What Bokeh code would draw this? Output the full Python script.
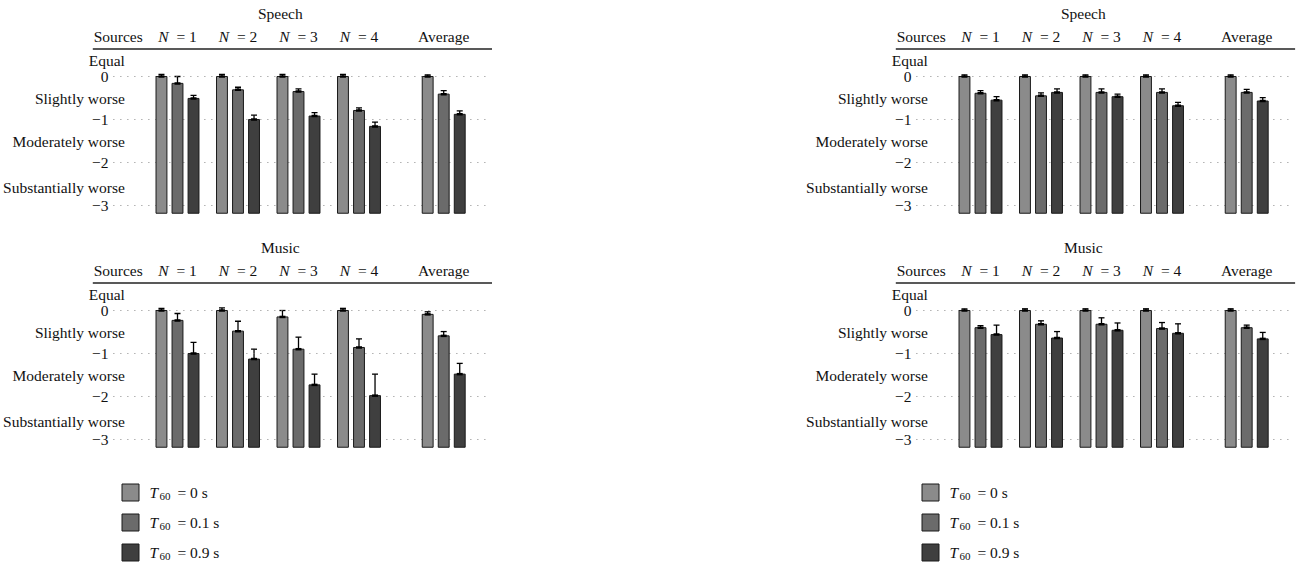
from bokeh.plotting import figure
from bokeh.layouts import column, row, Spacer
from bokeh.models import Range1d, ColumnDataSource, Whisker, TeeHead
from bokeh.core.properties import value
from bokeh.embed import file_html
from bokeh.resources import INLINE

FONT = "Liberation Serif"
FS = "15.5px"

# ---------------- data ----------------
groups = ["N = 1", "N = 2", "N = 3", "N = 4", "Average"]
header_first = "Sources"
cond_values = ["0", "0.1", "0.9"]          # T60 in seconds
tick_values = [0, -1, -2, -3]
tick_labels = ["0", "\u22121", "\u22122", "\u22123"]
rating_labels = ["Equal", "Slightly worse", "Moderately worse", "Substantially worse"]
rating_pos = [0.38, -0.52, -1.52, -2.58]

# left column
speech_L_t0 = [0.0, 0.0, 0.0, 0.0, 0.0]
speech_L_t0_err = [0.05, 0.05, 0.05, 0.05, 0.04]
speech_L_t01 = [-0.16, -0.31, -0.35, -0.79, -0.41]
speech_L_t01_err = [0.16, 0.06, 0.06, 0.06, 0.08]
speech_L_t09 = [-0.51, -1.00, -0.92, -1.16, -0.88]
speech_L_t09_err = [0.07, 0.10, 0.08, 0.10, 0.08]

music_L_t0 = [0.0, 0.0, -0.15, 0.0, -0.09]
music_L_t0_err = [0.05, 0.06, 0.15, 0.05, 0.06]
music_L_t01 = [-0.23, -0.48, -0.90, -0.86, -0.59]
music_L_t01_err = [0.16, 0.23, 0.28, 0.20, 0.10]
music_L_t09 = [-1.00, -1.13, -1.73, -1.98, -1.48]
music_L_t09_err = [0.26, 0.23, 0.25, 0.50, 0.25]

# right column
speech_R_t0 = [0.0, 0.0, 0.0, 0.0, 0.0]
speech_R_t0_err = [0.04, 0.04, 0.04, 0.04, 0.04]
speech_R_t01 = [-0.39, -0.45, -0.37, -0.37, -0.37]
speech_R_t01_err = [0.06, 0.07, 0.08, 0.08, 0.07]
speech_R_t09 = [-0.55, -0.37, -0.47, -0.68, -0.57]
speech_R_t09_err = [0.08, 0.08, 0.06, 0.08, 0.08]

music_R_t0 = [0.0, 0.0, 0.0, 0.0, 0.0]
music_R_t0_err = [0.04, 0.04, 0.04, 0.04, 0.04]
music_R_t01 = [-0.40, -0.32, -0.32, -0.42, -0.40]
music_R_t01_err = [0.05, 0.08, 0.15, 0.14, 0.06]
music_R_t09 = [-0.56, -0.64, -0.46, -0.53, -0.66]
music_R_t09_err = [0.22, 0.15, 0.17, 0.22, 0.15]

colors = ["#8b8b8b", "#6b6b6b", "#3f3f3f"]

# ---------------- layout constants ----------------
PX_PER_X = 60.5
PX_PER_Y = 43.0
BAR_BOTTOM = -3.18


def group_x(i):
    return i + 1 + (0.4 if i == len(groups) - 1 else 0.0)


def txt(p, x, y, t, align="center", size=FS, style="normal", xoff=0, yoff=0):
    p.text(x=x, y=y, text=t, text_font=value(FONT), text_font_size=size,
           text_font_style=style, text_align=align, text_baseline="middle",
           text_color="#111111", x_offset=xoff, y_offset=yoff)


def make_panel(title, series, errs, width, height, x_start, y_end):
    y_start = y_end - height / PX_PER_Y
    x_end = x_start + width / PX_PER_X
    p = figure(width=width, height=height, output_backend="svg", toolbar_location=None,
               x_range=Range1d(x_start, x_end), y_range=Range1d(y_start, y_end),
               x_axis_location=None, y_axis_location=None, min_border=0,
               outline_line_color=None)
    p.xgrid.visible = False
    p.ygrid.visible = False

    # dotted reference lines
    p.segment(x0=[-0.06] * len(tick_values), x1=[6.13] * len(tick_values),
              y0=tick_values, y1=tick_values, line_color="#8a8a8a",
              line_dash="1 6", line_width=1.2)

    offsets = [-0.265, 0.0, 0.265]
    for k in range(3):
        xs = [group_x(i) + offsets[k] for i in range(len(groups))]
        src = ColumnDataSource(dict(
            x=xs, top=series[k], bottom=[BAR_BOTTOM] * len(xs),
            upper=[v + e for v, e in zip(series[k], errs[k])],
            lower=[v - e for v, e in zip(series[k], errs[k])]))
        p.vbar(x="x", top="top", bottom="bottom", width=0.18, source=src,
               fill_color=colors[k], line_color="#1a1a1a", line_width=1)
        w = Whisker(source=src, base="x", upper="upper", lower="lower",
                    dimension="height", line_color="black", line_width=1.3,
                    upper_head=TeeHead(size=6, line_color="black", line_width=1.3),
                    lower_head=TeeHead(size=6, line_color="black", line_width=1.3))
        p.add_layout(w)
        p.scatter(x="x", y="top", source=src, marker="dash", size=6,
                  line_color="black", line_width=2.5)

    # header
    txt(p, [2.7], [1.47], [title])
    txt(p, [0.02], [0.92], [header_first])
    for i, g in enumerate(groups):
        gx = group_x(i)
        if g.startswith("N"):
            txt(p, [gx], [0.92], ["N"], align="right", style="italic", xoff=-9)
            txt(p, [gx], [0.92], [g[1:].strip()], align="left", xoff=-1)
        else:
            txt(p, [gx], [0.92], [g])
    p.segment(x0=[-0.40], x1=[6.2], y0=[0.64], y1=[0.64],
              line_color="#222222", line_width=1.3)

    # y labels
    txt(p, [-0.14] * len(tick_values), tick_values, tick_labels, align="right")
    txt(p, [0.13] * len(rating_labels), rating_pos, rating_labels, align="right")
    return p


def make_legend(width):
    h = 104
    p = figure(width=width, height=h, output_backend="svg", toolbar_location=None,
               x_range=Range1d(0, width), y_range=Range1d((h - 30) / 30.0, -1.0),
               x_axis_location=None, y_axis_location=None, min_border=0,
               outline_line_color=None)
    p.xgrid.visible = False
    p.ygrid.visible = False
    ys = list(range(len(cond_values)))
    p.rect(x=[130] * len(ys), y=ys, width=17, height=17 / 30.0,
           fill_color=colors, line_color="#1a1a1a", line_width=1)
    txt(p, [149] * len(ys), ys, ["T"] * len(ys), align="left", style="italic")
    txt(p, [159] * len(ys), ys, ["60"] * len(ys), align="left", size="11px", yoff=4)
    txt(p, [177] * len(ys), ys, ["= %s s" % c for c in cond_values], align="left")
    return p


LW, RW = 492, 499
pTL = make_panel("Speech", [speech_L_t0, speech_L_t01, speech_L_t09],
                 [speech_L_t0_err, speech_L_t01_err, speech_L_t09_err],
                 LW, 226, 1 - 177 / PX_PER_X, 76 / PX_PER_Y)
pBL = make_panel("Music", [music_L_t0, music_L_t01, music_L_t09],
                 [music_L_t0_err, music_L_t01_err, music_L_t09_err],
                 LW, 236, 1 - 177 / PX_PER_X, 84 / PX_PER_Y)
pTR = make_panel("Speech", [speech_R_t0, speech_R_t01, speech_R_t09],
                 [speech_R_t0_err, speech_R_t01_err, speech_R_t09_err],
                 RW, 226, 1 - 180 / PX_PER_X, 76 / PX_PER_Y)
pBR = make_panel("Music", [music_R_t0, music_R_t01, music_R_t09],
                 [music_R_t0_err, music_R_t01_err, music_R_t09_err],
                 RW, 236, 1 - 180 / PX_PER_X, 84 / PX_PER_Y)
legL = make_legend(LW)
legR = make_legend(RW)

left = column(pTL, pBL, legL, spacing=0)
right = column(pTR, pBR, legR, spacing=0)
layout = row(left, Spacer(width=800 - LW), right, spacing=0)

open("out.html", "w").write(file_html(layout, INLINE))
